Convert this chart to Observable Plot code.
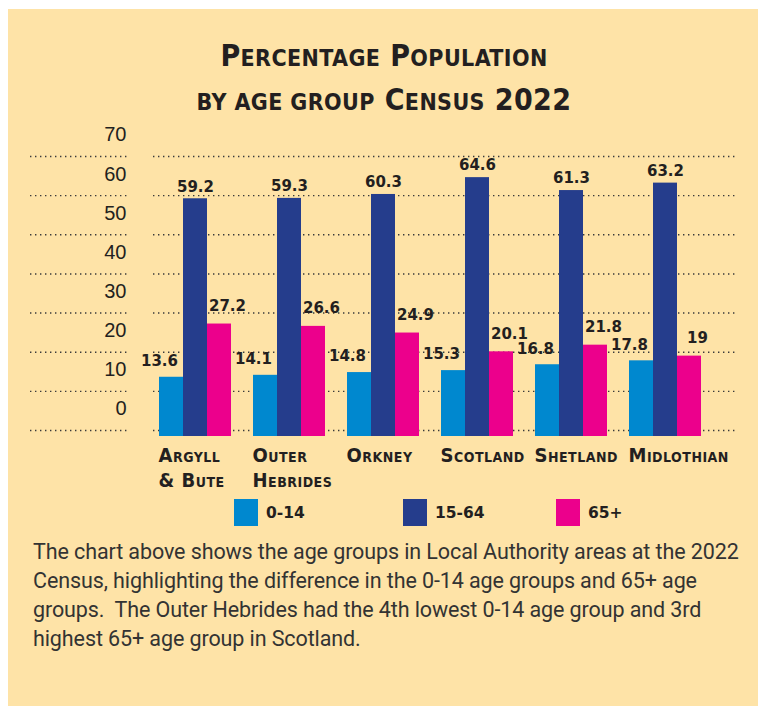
<!DOCTYPE html>
<html>
<head>
<meta charset="utf-8">
<script src="https://cdn.jsdelivr.net/npm/d3@7"></script>
<script src="https://cdn.jsdelivr.net/npm/@observablehq/plot@0.6"></script>
<style>
  html, body { margin: 0; padding: 0; background: #ffffff; }
  #panel { position: absolute; left: 8px; top: 9px; width: 750px; height: 697px; background: #FEE3A7; overflow: hidden; }
  #title { position: absolute; left: 0; top: 26px; width: 752px; text-align: center;
    font-family: "DejaVu Sans Condensed", "DejaVu Sans", sans-serif; font-stretch: condensed;
    font-weight: bold; font-size: 30px; line-height: 41px; color: #231F20; letter-spacing: 0.4px; }
  #title .sc { font-size: 23px; text-transform: uppercase; }
  #chart { position: absolute; left: 0; top: 106px; }
  #chart g[aria-label="x-axis tick label"] text { letter-spacing: 0.5px; }
  #legend { position: absolute; left: 226px; top: 490px; display: flex; align-items: center;
    font-family: "DejaVu Sans", sans-serif; font-weight: bold; font-size: 15.5px; color: #231F20; }
  .item { display: flex; align-items: center; }
  .item:nth-child(1) { width: 169px; }
  .item:nth-child(2) { width: 153px; }
  .sw { width: 24px; height: 27px; margin-right: 8px; }
  #caption { position: absolute; left: 25px; top: 528px; width: 725px; white-space: nowrap;
    font-family: Roboto, "Liberation Sans", sans-serif; font-size: 21.5px; line-height: 29px; color: #333333; letter-spacing: -0.1px; }
</style>
</head>
<body>
<div id="panel">
  <div id="title"><span>P</span><span class="sc">ercentage</span> <span>P</span><span class="sc">opulation</span><br><span class="sc">by age group</span> <span>C</span><span class="sc">ensus</span> <span>2022</span></div>
  <div id="chart"></div>
  <div id="legend"></div>
  <div id="caption">The chart above shows the age groups in Local Authority areas at the 2022<br>Census, highlighting the difference in the 0-14 age groups and 65+ age<br>groups.&nbsp; The Outer Hebrides had the 4th lowest 0-14 age group and 3rd<br>highest 65+ age group in Scotland.</div>
</div>
<script>
const categories = ["Argyll & Bute", "Outer Hebrides", "Orkney", "Scotland", "Shetland", "Midlothian"];
const categoryLabels = ["Argyll\n& Bute", "Outer\nHebrides", "Orkney", "Scotland", "Shetland", "Midlothian"];
const ageGroups = ["0-14", "15-64", "65+"];
const age0to14 = [13.6, 14.1, 14.8, 15.3, 16.8, 17.8];
const age15to64 = [59.2, 59.3, 60.3, 64.6, 61.3, 63.2];
const age65plus = [27.2, 26.6, 24.9, 20.1, 21.8, 19];
const yTicks = [0, 10, 20, 30, 40, 50, 60, 70];
const colors = ["#0088CF", "#253D8C", "#EC008C"];

const seriesValues = [age0to14, age15to64, age65plus];
const rows = [];
ageGroups.forEach((g, gi) => categories.forEach((c, ci) => rows.push({category: c, group: g, value: seriesValues[gi][ci]})));

const insets = [[0, 48], [24, 24], [48, 0]];
const labelDx = [-36, 0, 32];
const labelDy = [-16, -12, -18];
const labelFont = {fontFamily: "DejaVu Sans, sans-serif", fontWeight: "bold", fontSize: 15, fill: "#231F20"};

const barMarks = ageGroups.map((g, gi) => Plot.barY(rows.filter(d => d.group === g), {
  x: "category", y: "value", fill: colors[gi],
  insetLeft: insets[gi][0], insetRight: insets[gi][1], insetBottom: -6
}));
const textMarks = ageGroups.map((g, gi) => Plot.text(rows.filter(d => d.group === g), {
  x: "category", y: "value", text: d => String(d.value),
  dx: labelDx[gi], dy: labelDy[gi], ...labelFont
}));

const plot = Plot.plot({
  width: 750,
  height: 380,
  marginLeft: 145,
  marginRight: 20,
  marginTop: 41,
  marginBottom: 65,
  style: {background: "transparent", overflow: "visible"},
  x: {domain: categories, range: [150, 694.5], paddingInner: 0.238, paddingOuter: 0, align: 0.5},
  y: {domain: [0, 70]},
  marks: [
    Plot.ruleY(yTicks, {stroke: "#3a3a3a", strokeWidth: 1.4, strokeDasharray: "1.4 3.6"}),
    Plot.ruleY(yTicks, {stroke: "#3a3a3a", strokeWidth: 1.4, strokeDasharray: "1.4 3.6", insetLeft: -123, insetRight: 611}),
    Plot.axisY(yTicks, {anchor: "left", tickSize: 0, tickPadding: 27, dy: -21.5, fontSize: 20,
      fontFamily: "Liberation Sans, Arial, sans-serif", fill: "#231F20", label: null, tickFormat: d => String(d)}),
    ...barMarks,
    ...textMarks,
    Plot.axisX({anchor: "bottom", tickSize: 0, tickPadding: 14, textAnchor: "start", dx: -37,
      fontSize: 20, fontWeight: "bold", lineHeight: 1.25, fontFamily: "DejaVu Sans Condensed, DejaVu Sans, sans-serif",
      fontVariant: "small-caps", fill: "#231F20", label: null,
      tickFormat: d => categoryLabels[categories.indexOf(d)]})
  ]
});
document.getElementById("chart").appendChild(plot);

const legend = document.getElementById("legend");
ageGroups.forEach((g, i) => {
  const item = document.createElement("div");
  item.className = "item";
  item.innerHTML = `<div class="sw" style="background:${colors[i]}"></div><span>${g}</span>`;
  legend.appendChild(item);
});
</script>
</body>
</html>
